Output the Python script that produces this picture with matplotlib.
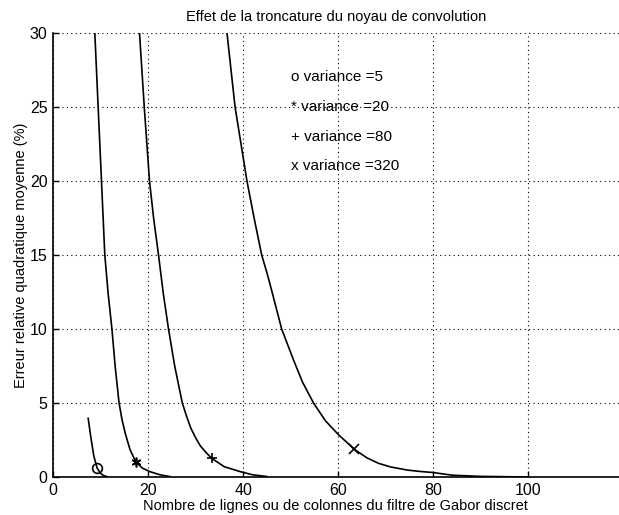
import matplotlib.pyplot as plt
import numpy as np

plt.rcParams['font.family'] = ['Liberation Sans', 'DejaVu Sans']

# courbes (taille du filtre, erreur %)
x_v5 = [7.4, 8.0, 8.6, 9.3, 10.0, 10.6, 11.3]
y_v5 = [3.97, 2.6, 1.4, 0.59, 0.25, 0.1, 0.03]

x_v20 = [8.6, 8.8, 9.5, 10.2, 10.9, 11.6, 12.4, 13.1, 13.9, 14.5, 15.2, 16.2, 17.4, 18.8, 20.4, 22.5, 24.6]
y_v20 = [31.0, 30.0, 25.0, 20.0, 15.0, 12.4, 10.0, 7.4, 5.0, 3.9, 2.95, 1.85, 1.03, 0.6, 0.36, 0.15, 0.03]

x_v80 = [18.0, 18.2, 19.2, 20.3, 21.2, 22.2, 23.2, 24.3, 25.6, 27.2, 28.1, 29.0, 30.0, 31.0, 32.2, 33.4, 36.0, 39.4, 42.0, 45.0]
y_v80 = [31.0, 30.0, 25.0, 20.0, 17.4, 15.0, 12.4, 10.0, 7.5, 5.0, 4.1, 3.3, 2.65, 2.1, 1.65, 1.26, 0.7, 0.36, 0.15, 0.03]

x_v320 = [36.4, 36.6, 38.3, 40.8, 42.3, 43.9, 45.0, 46.0, 48.1, 50.6, 52.5, 54.8, 57.3, 60.1, 63.4, 66.0, 68.5, 71.0, 74.5, 77.0, 80.0, 84.0, 90.0, 100.0]
y_v320 = [31.0, 30.0, 25.0, 20.0, 17.5, 15.0, 13.8, 12.6, 10.0, 7.9, 6.4, 5.0, 3.8, 2.84, 1.87, 1.3, 0.92, 0.68, 0.47, 0.38, 0.3, 0.12, 0.04, 0.0]

# un seul marqueur par courbe
mark_x = [9.3, 17.4, 33.4, 63.4]
mark_y = [0.59, 1.03, 1.26, 1.87]
mark_sym = ['o', (6, 2, 0), '+', 'x']

legend_txt = ['o variance =5', '* variance =20', '+ variance =80', 'x variance =320']
legend_y = [27, 25, 23, 21]

fig = plt.figure(figsize=(6.19, 5.15), dpi=100)
ax = fig.add_axes([0.0856, 0.0738, 0.914, 0.862])

for xs, ys in [(x_v5, y_v5), (x_v20, y_v20), (x_v80, y_v80), (x_v320, y_v320)]:
    ax.plot(xs, ys, color='black', linewidth=1.2)

for mx, my, ms in zip(mark_x, mark_y, mark_sym):
    ax.plot(mx, my, marker=ms, color='black', markerfacecolor='none',
            markersize=7, markeredgewidth=1.2)

for t, yy in zip(legend_txt, legend_y):
    ax.text(50, yy, t, fontsize=11, va='center', ha='left')

ax.set_xlim(0, 119)
ax.set_ylim(0, 30)
ax.set_xticks([0, 20, 40, 60, 80, 100])
ax.set_yticks([0, 5, 10, 15, 20, 25, 30])
ax.grid(True, color='black', linestyle=(0, (1, 3)), linewidth=0.8)
ax.spines['top'].set_visible(False)
ax.spines['right'].set_visible(False)
ax.spines['left'].set_linewidth(1.2)
ax.spines['bottom'].set_linewidth(1.2)
ax.tick_params(direction='in', labelsize=11.5, length=4, width=1, pad=4)

ax.set_title('Effet de la troncature du noyau de convolution', fontsize=10.5, pad=9)
ax.set_xlabel('Nombre de lignes ou de colonnes du filtre de Gabor discret', fontsize=10.5, labelpad=1)
ax.set_ylabel('Erreur relative quadratique moyenne (%)', fontsize=10.5, labelpad=1)

fig.savefig('out.png', dpi=100)
